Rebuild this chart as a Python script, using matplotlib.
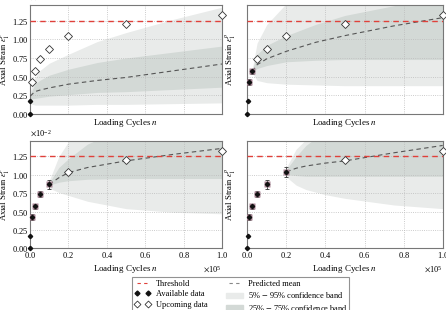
import numpy as np
import matplotlib
matplotlib.use("Agg")
import matplotlib.pyplot as plt
from matplotlib.lines import Line2D
from matplotlib.patches import Patch
from matplotlib.ticker import ScalarFormatter

plt.rcParams['font.family'] = ['Liberation Serif', 'DejaVu Serif']
plt.rcParams['mathtext.fontset'] = 'stix'
plt.rcParams['font.size'] = 6.5

# measured data (strain in 1e-2)
cycles = [0, 100, 1000, 2500, 5000, 10000, 20000, 50000, 100000]
strain = [0.00, 0.17, 0.43, 0.57, 0.74, 0.87, 1.04, 1.20, 1.33]
strain_err = [0.0, 0.0, 0.04, 0.03, 0.04, 0.06, 0.07, 0.0, 0.0]
threshold = 1.25

# number of available points in each panel
n_avail = [2, 4, 6, 7]

# predictions per panel (strain in 1e-2)
pred_x = [
    [100, 2500, 5000, 10000, 20000, 35000, 50000, 75000, 100000],
    [2500, 5000, 10000, 20000, 35000, 50000, 75000, 100000],
    [10000, 15000, 20000, 30000, 50000, 75000, 100000],
    [20000, 25000, 30000, 40000, 50000, 75000, 100000],
]
pred_mean = [
    [0.24, 0.30, 0.32, 0.35, 0.40, 0.45, 0.49, 0.58, 0.67],
    [0.57, 0.66, 0.74, 0.84, 0.96, 1.05, 1.18, 1.29],
    [0.87, 0.96, 1.03, 1.10, 1.19, 1.28, 1.36],
    [1.04, 1.09, 1.12, 1.16, 1.19, 1.30, 1.40],
]
pred_q05 = [
    [0.14, 0.12, 0.12, 0.12, 0.12, 0.13, 0.13, 0.14, 0.15],
    [0.55, 0.45, 0.42, 0.40, 0.39, 0.38, 0.38, 0.38],
    [0.82, 0.76, 0.72, 0.64, 0.54, 0.49, 0.47],
    [0.97, 0.86, 0.80, 0.73, 0.68, 0.59, 0.54],
]
pred_q25 = [
    [0.20, 0.21, 0.22, 0.24, 0.26, 0.29, 0.30, 0.33, 0.36],
    [0.56, 0.61, 0.65, 0.70, 0.72, 0.73, 0.73, 0.73],
    [0.86, 0.90, 0.92, 0.94, 0.95, 0.95, 0.95],
    [1.01, 0.99, 0.98, 0.98, 0.98, 0.98, 0.98],
]
pred_q75 = [
    [0.26, 0.40, 0.45, 0.52, 0.60, 0.69, 0.75, 0.83, 0.91],
    [0.58, 0.80, 0.92, 1.05, 1.20, 1.32, 1.45, 1.55],
    [0.89, 1.10, 1.22, 1.42, 1.65, 1.85, 2.00],
    [1.07, 1.25, 1.40, 1.60, 1.80, 2.00, 2.20],
]
pred_q95 = [
    [0.30, 0.48, 0.58, 0.68, 0.80, 0.97, 1.09, 1.27, 1.43],
    [0.60, 0.95, 1.20, 1.48, 1.70, 1.90, 2.10, 2.30],
    [0.92, 1.25, 1.45, 1.70, 1.90, 2.10, 2.30],
    [1.10, 1.35, 1.48, 1.70, 1.90, 2.10, 2.30],
]

light = '#e9ebea'
dark = '#d3d9d6'
red = '#e0403a'

fig = plt.figure(figsize=(4.46, 3.10), dpi=100)
positions = [
    [0.0673, 0.632, 0.4305, 0.352],
    [0.5545, 0.632, 0.438, 0.352],
    [0.0673, 0.199, 0.4305, 0.346],
    [0.5545, 0.199, 0.438, 0.346],
]

x = np.array(cycles)
y = np.array(strain) * 1e-2
yerr = np.array(strain_err) * 1e-2

for i, pos in enumerate(positions):
    ax = fig.add_axes(pos)
    px = np.array(pred_x[i])
    ax.fill_between(px, np.array(pred_q05[i]) * 1e-2, np.array(pred_q95[i]) * 1e-2,
                    color=light, lw=0, zorder=0.1)
    ax.fill_between(px, np.array(pred_q25[i]) * 1e-2, np.array(pred_q75[i]) * 1e-2,
                    color=dark, lw=0, zorder=0.2)
    ax.plot(px, np.array(pred_mean[i]) * 1e-2, ls='--', color='#555555', lw=0.8,
            dashes=(4, 3), zorder=3)
    ax.axhline(threshold * 1e-2, ls='--', color=red, lw=1.0, dashes=(4, 3), zorder=3.5)

    k = n_avail[i]
    # error bars on the available points (not the first two)
    if k > 2:
        ax.errorbar(x[2:k], y[2:k], yerr=yerr[2:k], fmt='s', ms=4,
                    mfc='#a88494', mec='none', ecolor='#333333', elinewidth=0.6,
                    capsize=1.5, capthick=0.6, zorder=4)
    ax.plot(x[:k], y[:k], 'D', color='#111111', ms=2.2, zorder=5, clip_on=False)
    ax.plot(x[k:], y[k:], 'D', mfc='white', mec='#333333', mew=0.6, ms=4,
            zorder=5, clip_on=False)

    ax.set_xlim(0, 100000)
    ax.set_ylim(0, 0.0146)
    ax.set_xticks([0, 20000, 40000, 60000, 80000, 100000])
    ax.set_yticks(np.arange(0, 1.26, 0.25) * 1e-2)
    ax.set_axisbelow('line')
    ax.grid(True, ls=':', color='#bbbbbb', lw=0.6)
    for s in ax.spines.values():
        s.set_color('#777777')
        s.set_linewidth(0.8)
    ax.tick_params(length=0, pad=1.5, labelsize=6)

    fx = ScalarFormatter(useMathText=True)
    fx.set_powerlimits((0, 0))
    ax.xaxis.set_major_formatter(fx)
    fy = ScalarFormatter(useMathText=True)
    fy.set_powerlimits((0, 0))
    ax.yaxis.set_major_formatter(fy)
    ax.xaxis.get_offset_text().set_fontsize(6)
    ax.yaxis.get_offset_text().set_fontsize(6)

    if i < 2:
        ax.tick_params(labelbottom=False)
        ax.xaxis.get_offset_text().set_visible(False)
    if i % 2 == 1:
        ax.tick_params(labelleft=False)
        ax.yaxis.get_offset_text().set_visible(False)

    ax.set_xlabel('Loading Cycles $n$', fontsize=6.5, labelpad=2)
    ax.set_ylabel('Axial Strain $\\epsilon_1^p$', fontsize=6.2)
    if i % 2 == 0:
        ax.yaxis.set_label_coords(-0.095, 0.5)
    else:
        ax.yaxis.set_label_coords(-0.05, 0.5)

handles = [
    Line2D([], [], ls='--', color=red, lw=0.8, dashes=(3, 3)),
    Line2D([], [], ls='none', marker='D', color='#111111', ms=2.5),
    Line2D([], [], ls='none', marker='D', mfc='white', mec='#333333', mew=0.6, ms=3.5),
    Line2D([], [], ls='--', color='#888888', lw=0.8, dashes=(3, 3)),
    Patch(color=light),
    Patch(color=dark),
]
labels = ['Threshold', 'Available data', 'Upcoming data', 'Predicted mean',
          '5% $-$ 95% confidence band', '25% $-$ 75% confidence band']
leg = fig.legend(handles, labels, loc='upper center', bbox_to_anchor=(0.54, 0.105),
                 ncol=2, numpoints=2, fontsize=6, frameon=True, fancybox=False,
                 edgecolor='#777777', handlelength=2.0, handleheight=0.6,
                 handletextpad=0.6, columnspacing=2.2, labelspacing=0.32,
                 borderpad=0.25, borderaxespad=0)
leg.get_frame().set_linewidth(0.8)

fig.savefig('out.png', dpi=100)
